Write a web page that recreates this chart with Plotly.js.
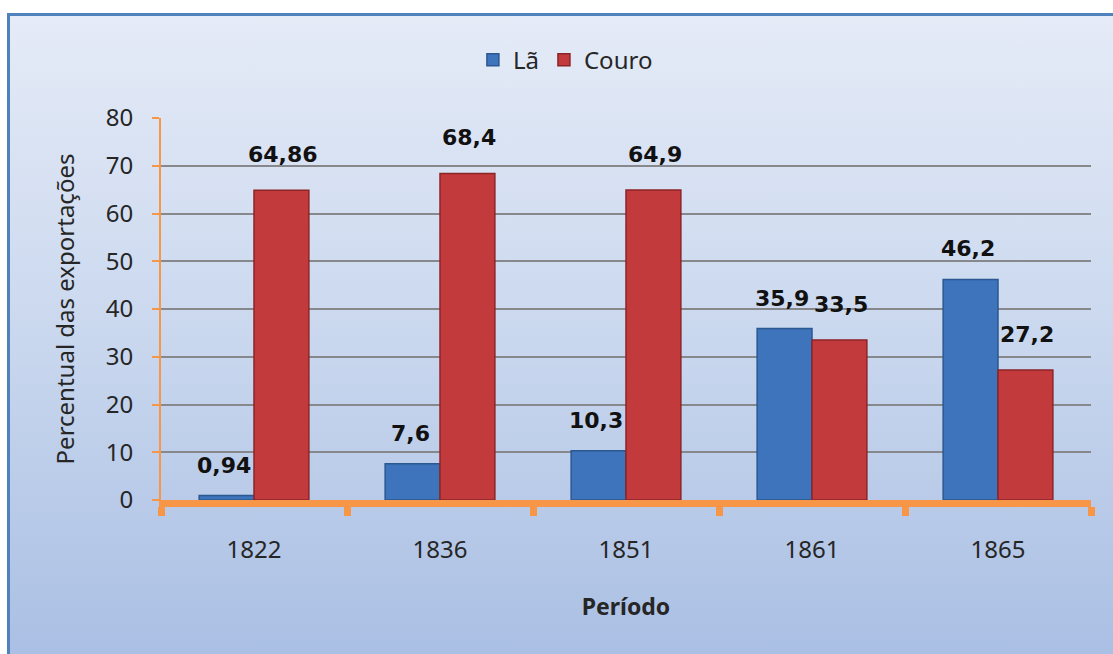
<!DOCTYPE html>
<html>
<head>
<meta charset="utf-8">
<script src="https://cdn.plot.ly/plotly-3.0.1.min.js"></script>
<style>
  html, body { margin: 0; padding: 0; width: 1113px; height: 654px; overflow: hidden; background: #ffffff; }
  #frame { position: absolute; left: 7px; top: 13px; width: 1120px; height: 660px;
           border: 3px solid #4f81bd; box-sizing: border-box;
           background: linear-gradient(to bottom, #e5ebf7 0%, #c9d7ee 50%, #a8bee3 100%); }
  #chart { position: absolute; left: 0; top: 0; width: 1113px; height: 654px; }
</style>
</head>
<body>
<div id="frame"></div>
<div id="chart"></div>
<script>
const categories = ["1822", "1836", "1851", "1861", "1865"];
const laValues = [0.94, 7.6, 10.3, 35.9, 46.2];
const couroValues = [64.86, 68.4, 64.9, 33.5, 27.2];
const laLabels = ["0,94", "7,6", "10,3", "35,9", "46,2"];
const couroLabels = ["64,86", "68,4", "64,9", "33,5", "27,2"];
const yTicks = [0, 10, 20, 30, 40, 50, 60, 70, 80];

const tickFont = { family: "Noto Sans, sans-serif", size: 24, color: "#262626" };

const traces = [
  {
    type: "bar", name: "Lã", x: categories, y: laValues,
    marker: { color: "#3d74bb", line: { color: "#2b5890", width: 1.5 } },
    hoverinfo: "skip"
  },
  {
    type: "bar", name: "Couro", x: categories, y: couroValues,
    marker: { color: "#c23a3c", line: { color: "#8c2527", width: 1.5 } },
    hoverinfo: "skip"
  }
];

const annotations = [];
const labelFont = { family: "DejaVu Sans, sans-serif", size: 22, color: "#111111" };
categories.forEach((c, i) => {
  annotations.push({ x: i, y: laValues[i], xref: "x", yref: "y", text: "<b>" + laLabels[i] + "</b>",
    showarrow: false, xshift: -30, yshift: 16, yanchor: "bottom", font: labelFont });
  annotations.push({ x: i, y: couroValues[i], xref: "x", yref: "y", text: "<b>" + couroLabels[i] + "</b>",
    showarrow: false, xshift: 29, yshift: 21, yanchor: "bottom", font: labelFont });
});

const layout = {
  width: 1113, height: 654,
  paper_bgcolor: "rgba(0,0,0,0)",
  plot_bgcolor: "rgba(0,0,0,0)",
  margin: { l: 161, r: 22, t: 118, b: 154 },
  barmode: "group",
  bargap: 0.41,
  bargroupgap: 0,
  showlegend: true,
  legend: {
    orientation: "h", xref: "container", yref: "container",
    x: 0.508, xanchor: "center", y: 0.908, yanchor: "middle",
    font: { family: "Noto Sans, sans-serif", size: 24, color: "#262626" },
    itemwidth: 30, traceorder: "normal", bgcolor: "rgba(0,0,0,0)"
  },
  xaxis: {
    type: "category",
    categoryorder: "array", categoryarray: categories,
    range: [-0.5, categories.length - 0.5],
    autorange: false,
    tickson: "boundaries",
    ticks: "outside", ticklen: 9, tickwidth: 7, tickcolor: "#f79646",
    showline: true, linecolor: "#f79646", linewidth: 7,
    showgrid: false,
    tickfont: tickFont,
    tickangle: 0,
    ticklabelstandoff: 22,
    title: { text: "<b>Período</b>", font: { family: "Noto Sans, sans-serif", size: 23, color: "#262626" }, standoff: 38 }
  },
  yaxis: {
    range: [0, 80],
    autorange: false,
    tickvals: yTicks,
    ticktext: yTicks.map(String),
    ticks: "outside", ticklen: 7, tickwidth: 2, tickcolor: "#f79646",
    showline: true, linecolor: "#f79646", linewidth: 2,
    showgrid: true, gridcolor: "#86888c", gridwidth: 2,
    zeroline: false,
    tickfont: tickFont,
    ticklabelstandoff: 14,
    title: { text: "Percentual das exportações", font: { family: "Noto Sans, sans-serif", size: 24, color: "#262626" }, standoff: 24 }
  },
  annotations: annotations
};

Plotly.newPlot("chart", traces, layout, { displayModeBar: false, staticPlot: true });
</script>
</body>
</html>
